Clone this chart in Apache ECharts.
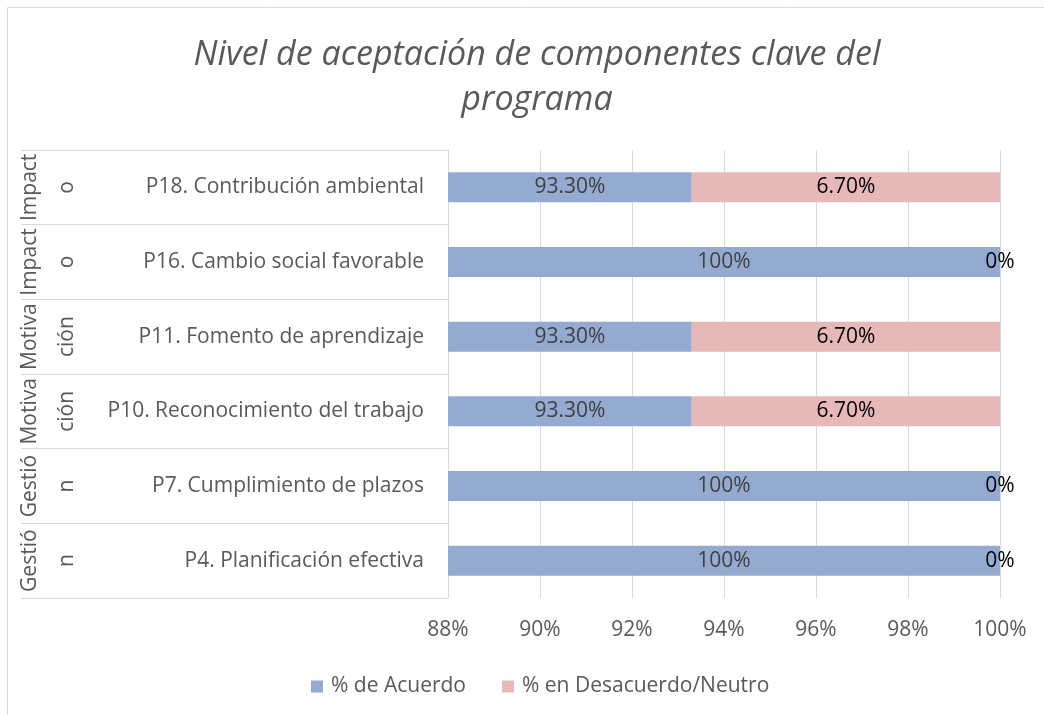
<!DOCTYPE html>
<html>
<head>
<meta charset="utf-8">
<script src="https://cdn.jsdelivr.net/npm/echarts@6/dist/echarts.min.js"></script>
<style>
html,body{margin:0;padding:0;background:#fff;}
#main{width:1044px;height:715px;}
</style>
</head>
<body>
<div id="main"></div>
<script>
const categories = ["P4. Planificación efectiva", "P7. Cumplimiento de plazos", "P10. Reconocimiento del trabajo", "P11. Fomento de aprendizaje", "P16. Cambio social favorable", "P18. Contribución ambiental"];
const groups = ["Gestió\nn", "Gestió\nn", "Motiva\nción", "Motiva\nción", "Impact\no", "Impact\no"];
const acuerdo = [100, 100, 93.3, 93.3, 100, 93.3];
const desacuerdo = [0, 0, 6.7, 6.7, 0, 6.7];
const acuerdoLabels = ["100%", "100%", "93.30%", "93.30%", "100%", "93.30%"];
const desacuerdoLabels = ["0%", "0%", "6.70%", "6.70%", "0%", "6.70%"];
const seriesNames = ["% de Acuerdo", "% en Desacuerdo/Neutro"];
const xTicks = { min: 88, max: 100, interval: 2 };

const FONT = "Open Sans";
const FS = 21;
const chart = echarts.init(document.getElementById('main'));
const option = {
  animation: false,
  textStyle: { fontFamily: FONT },
  title: {
    text: "Nivel de aceptación de componentes clave del\nprograma",
    left: 532, top: 28, textAlign: 'center',
    textStyle: { fontFamily: FONT, fontStyle: 'italic', fontWeight: 'normal', fontSize: 34, color: '#595959', lineHeight: 45 }
  },
  legend: {
    data: seriesNames,
    left: 306, top: 671,
    icon: 'rect', itemWidth: 12, itemHeight: 12, itemGap: 36,
    textStyle: { fontFamily: FONT, fontSize: FS, color: '#595959', padding: [0, 0, 0, 3] }
  },
  grid: { left: 448, right: 44, top: 150, bottom: 117 },
  xAxis: {
    type: 'value', min: xTicks.min, max: xTicks.max, interval: xTicks.interval,
    axisLabel: { formatter: '{value}%', fontFamily: FONT, fontSize: FS, color: '#595959', margin: 22 },
    axisLine: { show: false }, axisTick: { show: false },
    splitLine: { show: true, lineStyle: { color: '#d9d9d9', width: 1 } }
  },
  yAxis: {
    type: 'category', data: categories,
    axisLine: { show: true, lineStyle: { color: '#d9d9d9' } },
    axisTick: { show: true, length: 427, lineStyle: { color: '#d9d9d9' } },
    axisLabel: { fontFamily: FONT, fontSize: FS, color: '#595959', margin: 24 },
    splitLine: { show: false }
  },
  series: [
    {
      name: seriesNames[0], type: 'bar', stack: 'total', data: acuerdo, barWidth: 30,
      itemStyle: { color: '#95AAD1' },
      label: { show: true, position: 'inside', fontFamily: FONT, fontSize: FS, color: '#404040',
        formatter: p => acuerdoLabels[p.dataIndex] }
    },
    {
      name: seriesNames[1], type: 'bar', stack: 'total', data: desacuerdo, barWidth: 30,
      itemStyle: { color: '#E6B8B7' },
      label: { show: true, position: 'inside', fontFamily: FONT, fontSize: FS, color: '#000000',
        formatter: p => desacuerdoLabels[p.dataIndex] }
    }
  ]
};
chart.setOption(option);

// decorations: outer border and rotated group labels positioned through the axis scale
const elements = [
  { type: 'rect', shape: { x: 7.5, y: 7.5, width: 1060, height: 720 }, style: { fill: 'none', stroke: '#d9d9d9', lineWidth: 1 }, silent: true }
];
groups.forEach((g, i) => {
  const y = chart.convertToPixel({ yAxisIndex: 0 }, categories[i]);
  elements.push({
    type: 'text', x: 49, y: y, rotation: Math.PI / 2,
    style: { text: g, fontFamily: FONT, fontSize: FS, fill: '#595959', align: 'center', verticalAlign: 'middle', lineHeight: 37 },
    silent: true
  });
});
chart.setOption({ graphic: { elements: elements } });
</script>
</body>
</html>
